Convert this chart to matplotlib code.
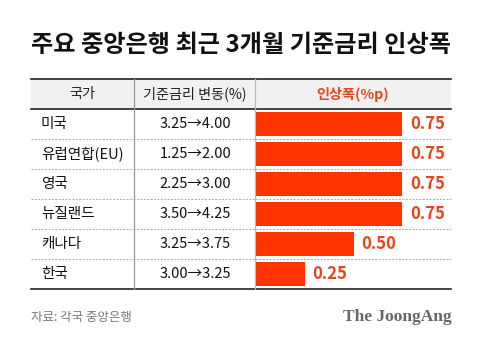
import matplotlib
matplotlib.use('Agg')
import matplotlib.pyplot as plt

plt.rcParams['font.family'] = ['Noto Sans CJK KR', 'DejaVu Sans']

title = '주요 중앙은행 최근 3개월 기준금리 인상폭'
headers = ['국가', '기준금리 변동(%)', '인상폭(%p)']
countries = ['미국', '유럽연합(EU)', '영국', '뉴질랜드', '캐나다', '한국']
rate_before = ['3.25', '1.25', '2.25', '3.50', '3.25', '3.00']
rate_after = ['4.00', '2.00', '3.00', '4.25', '3.75', '3.25']
hikes = [0.75, 0.75, 0.75, 0.75, 0.50, 0.25]
source = '자료: 각국 중앙은행'
brand = 'The JoongAng'

W, H = 480, 345
red = '#ff3300'
label_red = '#e8451c'

fig = plt.figure(figsize=(W / 100, H / 100), dpi=100)
fig.patch.set_facecolor('white')

# full-figure axes in pixel units for the table layout
ax = fig.add_axes([0, 0, 1, 1])
ax.set_xlim(0, W)
ax.set_ylim(H, 0)
ax.axis('off')

left, right = 31, 451
col1, col2 = 134, 255
head_top, head_bot = 79, 109
row_h = 30
n = len(countries)
bottom = head_bot + n * row_h

ax.text(241, 45, title, ha='center', va='center', fontsize=17.4, fontweight='bold', color='#111111')

# header
ax.fill_between([left, right], head_top, head_bot, color='#f1f1f1', lw=0)
ax.plot([left, right], [head_top, head_top], color='#222222', lw=1.2)
ax.plot([left, right], [head_bot, head_bot], color='#222222', lw=1.2)
ax.plot([left, right], [bottom, bottom], color='#222222', lw=1.2)
ax.plot([col1, col1], [head_top, bottom], color='#999999', lw=0.9)
ax.plot([col2, col2], [head_top, bottom], color='#bbbbbb', lw=0.9)
hy = (head_top + head_bot) / 2
ax.text((left + col1) / 2, hy, headers[0], ha='center', va='center', fontsize=10.2, color='#222222')
ax.text((col1 + col2) / 2, hy, headers[1], ha='center', va='center', fontsize=10.2, color='#222222')
ax.text((col2 + right) / 2, hy, headers[2], ha='center', va='center', fontsize=10.2,
        fontweight='bold', color=label_red)

for i, name in enumerate(countries):
    cy = head_bot + row_h * (i + 0.5)
    ax.text(41, cy, name, ha='left', va='center', fontsize=10.5, color='#111111')
    ax.text((col1 + col2) / 2 + 1, cy, f'{rate_before[i]}→{rate_after[i]}', ha='center', va='center',
            fontsize=10.5, color='#111111')
    if i < n - 1:
        yl = head_bot + row_h * (i + 1)
        ax.plot([left, right], [yl, yl], color='#aaaaaa', lw=0.7, ls=(0, (2, 1.5)))

ax.text(left, 317, source, ha='left', va='center', fontsize=9, color='#777777')
ax.text(right + 1, 317, brand, ha='right', va='center', fontsize=12.5, fontweight='bold',
        family='Liberation Serif', color='#666666')

# bar axes aligned with the third column
bx = fig.add_axes([(col2 + 1) / W, (H - bottom) / H, (right - col2 - 1) / W, (n * row_h) / H])
bx.set_xlim(0, 1.0)
bx.set_ylim(n - 0.5, -0.5)
bx.axis('off')
bx.patch.set_alpha(0)
bx.barh(range(n), hikes, height=0.77, color=red)
for i, v in enumerate(hikes):
    bx.text(v + 0.04, i, f'{v:.2f}', ha='left', va='center', fontsize=12, fontweight='bold', color=label_red)

fig.savefig('out.png', dpi=100)
